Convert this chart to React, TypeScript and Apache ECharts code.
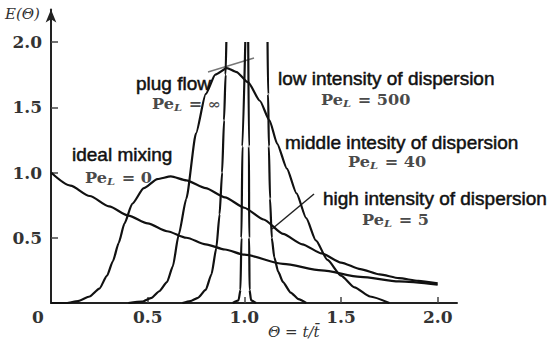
import React, { useEffect, useRef } from "react";
import * as echarts from "echarts";

// Θ = t / t̄ and E(Θ) values
const thetaMix = [0, 0.1, 0.2, 0.3, 0.4, 0.5, 0.6, 0.7, 0.8, 0.9, 1.0, 1.2, 1.4, 1.6, 1.8, 2.0];
const eMix = [1.0, 0.9, 0.82, 0.74, 0.67, 0.61, 0.55, 0.5, 0.45, 0.41, 0.37, 0.3, 0.25, 0.2, 0.165, 0.14];

const thetaPe5 = [0, 0.08, 0.14, 0.2, 0.25, 0.29, 0.32, 0.35, 0.38, 0.42, 0.48, 0.55, 0.62, 0.7, 0.8, 0.9, 1.0, 1.1, 1.2, 1.3, 1.4, 1.5, 1.6, 1.7, 1.8, 1.9, 2.0];
const ePe5 = [0, 0, 0.015, 0.05, 0.11, 0.21, 0.32, 0.46, 0.61, 0.76, 0.88, 0.95, 0.97, 0.94, 0.88, 0.81, 0.73, 0.64, 0.53, 0.45, 0.38, 0.31, 0.26, 0.22, 0.19, 0.17, 0.15];

const thetaPe40 = [0.4, 0.47, 0.52, 0.56, 0.6, 0.63, 0.66, 0.7, 0.75, 0.8, 0.85, 0.91, 0.96, 1.02, 1.08, 1.13, 1.17, 1.22, 1.27, 1.32, 1.37, 1.43, 1.5, 1.57, 1.65, 1.75];
const ePe40 = [0, 0.01, 0.04, 0.09, 0.16, 0.28, 0.52, 0.8, 1.3, 1.6, 1.75, 1.8, 1.77, 1.69, 1.55, 1.4, 1.22, 1.03, 0.84, 0.65, 0.48, 0.33, 0.21, 0.12, 0.05, 0];

const thetaPe500Left = [0.68, 0.72, 0.76, 0.8, 0.83, 0.855, 0.872, 0.885, 0.895, 0.903, 0.907];
const ePe500Left = [0, 0.015, 0.04, 0.1, 0.22, 0.42, 0.68, 1.0, 1.4, 1.75, 2.0];
const thetaPe500Right = [1.12, 1.123, 1.127, 1.133, 1.142, 1.155, 1.175, 1.2, 1.24, 1.28, 1.32];
const ePe500Right = [2.0, 1.6, 1.2, 0.8, 0.5, 0.35, 0.24, 0.16, 0.08, 0.03, 0];

const thetaPlugLeft = [0.94, 0.97, 0.98, 0.985, 0.99, 1.005];
const ePlugLeft = [0, 0.02, 0.1, 0.5, 1.2, 2.0];
const thetaPlugRight = [1.02, 1.024, 1.025, 1.027, 1.035, 1.06];
const ePlugRight = [2.0, 1.2, 0.5, 0.1, 0.02, 0];

const tickValues = [0.5, 1.0, 1.5, 2.0];

const zip = (xs: number[], ys: number[]) => xs.map((x, i) => [x, ys[i]]);

const SANS = "'Liberation Sans', Arial, sans-serif";
const SERIF = "'DejaVu Serif', serif";

function sansText(text: string, x: number, y: number) {
  return {
    type: "text",
    x,
    y,
    style: {
      text,
      font: `19px ${SANS}`,
      fill: "#111",
      stroke: "#111",
      lineWidth: 0.5,
      textAlign: "left",
      textVerticalAlign: "middle",
    },
  };
}

function peText(value: string, x: number, y: number) {
  return {
    type: "text",
    x,
    y,
    scaleX: 1.15,
    style: {
      text: `{p|Pe}{s|L}{p| = ${value}}`,
      textAlign: "left",
      textVerticalAlign: "middle",
      rich: {
        p: { fontFamily: SERIF, fontSize: 14, fontWeight: "bold", fill: "#4a4a4a" },
        s: { fontFamily: SERIF, fontSize: 10, fontStyle: "italic", fontWeight: "bold", fill: "#4a4a4a", padding: [8, 1, 0, 0] },
      },
    },
  };
}

export default function App() {
  const ref = useRef<HTMLDivElement>(null);
  useEffect(() => {
    document.body.style.margin = "0";
    const chart = echarts.init(ref.current!, null, { renderer: "svg" });
    const lineStyle = { color: "#111", width: 2.2 };
    const mk = (data: number[][], smooth = 0.25) => ({
      type: "line",
      data,
      showSymbol: false,
      symbol: "none",
      smooth,
      smoothMonotone: "x",
      lineStyle,
      silent: true,
    });
    chart.setOption({
      animation: false,
      grid: { left: 51, right: 93, top: 9.4, bottom: 41, outerBoundsMode: "none" },
      xAxis: {
        type: "value",
        min: 0,
        max: 2.1,
        interval: 0.5,
        splitLine: { show: false },
        axisLine: { lineStyle: { color: "#222", width: 2 } },
        axisTick: { inside: true, length: 6, customValues: tickValues, lineStyle: { color: "#444", width: 1.5 } },
        axisLabel: {
          customValues: tickValues,
          formatter: (v: number) => v.toFixed(1),
          margin: 5,
          fontFamily: SERIF,
          fontSize: 17,
          fontWeight: "bold",
          color: "#333",
        },
      },
      yAxis: {
        type: "value",
        min: 0,
        max: 2.25,
        interval: 0.5,
        splitLine: { show: false },
        axisLine: {
          lineStyle: { color: "#222", width: 2 },
          symbol: ["none", "arrow"],
          symbolSize: [8, 13],
        },
        axisTick: { inside: true, length: 7, customValues: tickValues, lineStyle: { color: "#444", width: 1.5 } },
        axisLabel: {
          customValues: tickValues,
          formatter: (v: number) => v.toFixed(1),
          margin: 9,
          fontFamily: SERIF,
          fontSize: 17,
          fontWeight: "bold",
          color: "#333",
        },
      },
      series: [
        mk(zip(thetaMix, eMix)),
        mk(zip(thetaPe5, ePe5), 0.2),
        mk(zip(thetaPe40, ePe40), 0.2),
        mk(zip(thetaPe500Left, ePe500Left), 0.2),
        mk(zip(thetaPe500Right, ePe500Right), 0.2),
        mk(zip(thetaPlugLeft, ePlugLeft), 0.2),
        mk(zip(thetaPlugRight, ePlugRight), 0.2),
      ],
      graphic: [
        {
          type: "text",
          x: 5,
          y: 14,
          style: { text: "E(\u0398)", font: `italic 15px ${SERIF}`, fill: "#333", textAlign: "left", textVerticalAlign: "middle" },
        },
        {
          type: "text",
          x: 38,
          y: 317,
          style: { text: "0", font: `bold 17px ${SERIF}`, fill: "#333", textAlign: "center", textVerticalAlign: "middle" },
        },
        {
          type: "text",
          x: 268,
          y: 332,
          style: { text: "\u0398 = t/t\u0304", font: `italic 15px ${SERIF}`, fill: "#333", textAlign: "left", textVerticalAlign: "middle" },
        },
        sansText("plug flow", 136, 83),
        peText("\u221e", 152, 104),
        sansText("low intensity of dispersion", 278, 78),
        peText("500", 321, 100),
        sansText("middle intesity of dispersion", 285, 142),
        peText("40", 348, 162),
        sansText("high intensity of dispersion", 323, 198),
        peText("5", 362, 220),
        sansText("ideal mixing", 72, 154),
        peText("0", 85, 178),
        { type: "line", shape: { x1: 208, y1: 72, x2: 254, y2: 58 }, style: { stroke: "#777", lineWidth: 1.5 } },
        { type: "line", shape: { x1: 314, y1: 194, x2: 272, y2: 229 }, style: { stroke: "#222", lineWidth: 1.5 } },
      ],
    });
    return () => chart.dispose();
  }, []);
  return <div ref={ref} style={{ width: 550, height: 344 }} />;
}
